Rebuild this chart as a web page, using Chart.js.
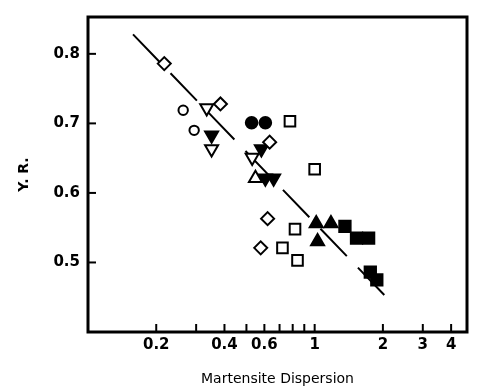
<!DOCTYPE html>
<html>
<head>
<meta charset="utf-8">
<script src="https://cdn.jsdelivr.net/npm/chart.js@4"></script>
<style>
  html, body { margin: 0; padding: 0; background: #fff; }
  #wrap { width: 477px; height: 390px; }
</style>
</head>
<body>
<div id="wrap"><canvas id="yr"></canvas></div>
<script>
// values (x = martensite dispersion, y = Y.R.)
var openDiamond = [[0.217, 0.786], [0.384, 0.728], [0.633, 0.673], [0.620, 0.563], [0.578, 0.521]];
var openCircle = [[0.263, 0.719], [0.294, 0.690]];
var openTriDown = [[0.334, 0.722], [0.351, 0.663], [0.530, 0.651]];
var fillTriDown = [[0.351, 0.683], [0.582, 0.663], [0.606, 0.621], [0.659, 0.621]];
var fillCircle = [[0.527, 0.701], [0.606, 0.701]];
var openSquare = [[0.778, 0.703], [1.0, 0.634], [0.819, 0.548], [0.721, 0.521], [0.84, 0.503]];
var openTriUp = [[0.548, 0.621]];
var fillTriUp = [[1.016, 0.556], [1.18, 0.556], [1.03, 0.530]];
var fillSquare = [[1.36, 0.552], [1.53, 0.535], [1.73, 0.535], [1.76, 0.486], [1.88, 0.475]];
var fitLine = [[0.158, 0.828], [2.19, 0.442]];

var xTicks = [0.2, 0.3, 0.4, 0.5, 0.6, 0.7, 0.8, 0.9, 1, 2, 3, 4];
var xLabeled = [0.2, 0.4, 0.6, 1, 2, 3, 4];
var yTicks = [0.5, 0.6, 0.7, 0.8];

function pts(arr) {
  return arr.map(function (p) { return { x: p[0], y: p[1] }; });
}

function marker(arr, style, r, filled, rot) {
  return {
    data: pts(arr),
    pointStyle: style,
    pointRadius: r,
    pointRotation: rot || 0,
    pointBackgroundColor: filled ? "#000" : "#fff",
    pointBorderColor: "#000",
    pointBorderWidth: 2,
    showLine: false,
    order: 0
  };
}

var fontSpec = { family: "DejaVu Sans", size: 15, weight: "bold" };

// inward tick marks and the box frame
var frame = {
  id: "frame",
  afterDraw: function (chart) {
    var ctx = chart.ctx, a = chart.chartArea;
    var xs = chart.scales.x, ys = chart.scales.y;
    ctx.save();
    ctx.strokeStyle = "#000";
    ctx.lineWidth = 2;
    xs.ticks.forEach(function (t) {
      var px = xs.getPixelForValue(t.value);
      ctx.beginPath();
      ctx.moveTo(px, a.bottom);
      ctx.lineTo(px, a.bottom - 8);
      ctx.stroke();
    });
    ys.ticks.forEach(function (t) {
      var py = ys.getPixelForValue(t.value);
      ctx.beginPath();
      ctx.moveTo(a.left, py);
      ctx.lineTo(a.left + 8, py);
      ctx.stroke();
    });
    ctx.lineWidth = 3;
    ctx.strokeRect(a.left, a.top, a.right - a.left, a.bottom - a.top);
    ctx.restore();
  }
};

new Chart("yr", {
  type: "scatter",
  data: {
    datasets: [
      {
        type: "line",
        data: pts(fitLine),
        borderColor: "#000",
        borderWidth: 2,
        borderDash: [38, 16],
        pointRadius: 0,
        fill: false,
        order: 10
      },
      marker(openDiamond, "rectRot", 6.5, false),
      marker(openCircle, "circle", 4.7, false),
      marker(openTriDown, "triangle", 7.5, false, 180),
      marker(fillTriDown, "triangle", 7.5, true, 180),
      marker(fillCircle, "circle", 5.8, true),
      marker(openSquare, "rect", 7.5, false),
      marker(openTriUp, "triangle", 7.5, false),
      marker(fillTriUp, "triangle", 7.5, true),
      marker(fillSquare, "rect", 8, true)
    ]
  },
  options: {
    responsive: true,
    maintainAspectRatio: false,
    animation: false,
    layout: { padding: { top: 10, right: 5, left: 0, bottom: 0 } },
    plugins: { legend: { display: false }, tooltip: { enabled: false } },
    scales: {
      x: {
        type: "logarithmic",
        min: 0.1,
        max: 4.7,
        afterBuildTicks: function (s) {
          s.ticks = xTicks.map(function (v) { return { value: v }; });
        },
        afterFit: function (s) { s.height = 58; },
        grid: { display: false, drawTicks: false },
        border: { display: false },
        ticks: {
          color: "#000",
          font: fontSpec,
          padding: 4,
          autoSkip: false,
          maxRotation: 0,
          callback: function (v) {
            return xLabeled.indexOf(v) >= 0 ? String(v) : "";
          }
        },
        title: {
          display: true,
          text: "Martensite Dispersion",
          color: "#000",
          font: { family: "DejaVu Sans", size: 14 },
          padding: { top: 0, bottom: 2 }
        }
      },
      y: {
        min: 0.40,
        max: 0.853,
        afterBuildTicks: function (s) {
          s.ticks = yTicks.map(function (v) { return { value: v }; });
        },
        afterFit: function (s) { s.width = 88; },
        grid: { display: false, drawTicks: false },
        border: { display: false },
        ticks: {
          color: "#000",
          font: fontSpec,
          padding: 8,
          callback: function (v) { return v.toFixed(1); }
        },
        title: {
          display: true,
          text: "Y. R.",
          color: "#000",
          font: { family: "DejaVu Sans", size: 14, weight: "bold" },
          padding: { top: 16, bottom: 0 }
        }
      }
    }
  },
  plugins: [frame]
});
</script>
</body>
</html>
